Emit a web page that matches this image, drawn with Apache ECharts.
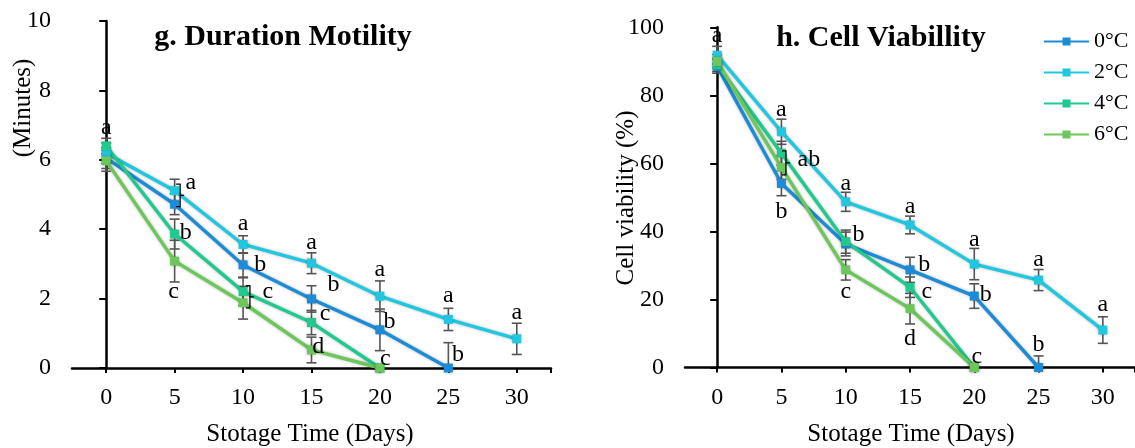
<!DOCTYPE html>
<html>
<head>
<meta charset="utf-8">
<script src="https://cdn.jsdelivr.net/npm/echarts@6/dist/echarts.min.js"></script>
<style>html,body{margin:0;padding:0;background:#fff}#c{width:1135px;height:448px}</style>
</head>
<body>
<div id="c"></div>
<script>
// ---------- data ----------
const days = [0, 5, 10, 15, 20, 25, 30];
const dayTicks = [0, 5, 10, 15, 20, 25, 30];
const seriesNames = ['0°C', '2°C', '4°C', '6°C'];

// g. Duration Motility (minutes)
const motility0 = [6.05, 4.72, 2.97, 1.99, 1.10, 0];
const motility2 = [6.19, 5.11, 3.56, 3.02, 2.07, 1.40, 0.84];
const motility4 = [6.40, 3.86, 2.20, 1.31, 0];
const motility6 = [5.97, 3.08, 1.88, 0.52, 0];
const motilityErr0 = [0.30, 0.30, 0.35, 0.38, 0.60, 0.73];
const motilityErr2 = [0.30, 0.33, 0.25, 0.30, 0.44, 0.32, 0.45];
const motilityErr4 = [0.22, 0.43, 0.40, 0.35, 0];
const motilityErr6 = [0.30, 0.60, 0.47, 0.37, 0];
const motilityTicks = [0, 2, 4, 6, 8, 10];
// letters: [day, value, letter]
const motilityLetters = [
  [0, 6.92, 'a'], [6.18, 5.33, 'a'], [5.81, 3.89, 'b'], [4.93, 2.19, 'c'],
  [10, 4.15, 'a'], [11.25, 2.97, 'b'], [11.8, 2.20, 'c'],
  [15, 3.61, 'a'], [16.6, 2.39, 'b'], [16.0, 1.56, 'c'], [15.5, 0.61, 'd'],
  [20, 2.84, 'a'], [20.7, 1.33, 'b'], [20.4, 0.26, 'c'],
  [25, 2.07, 'a'], [25.7, 0.37, 'b'],
  [30, 1.59, 'a']
];
// brackets: [day, top, bottom]
const motilityBrackets = [[5.4, 5.30, 4.65], [10.5, 2.37, 1.73]];

// h. Cell Viability (%)
const viability0 = [88.5, 54.1, 36.3, 28.7, 21.0, 0];
const viability2 = [91.8, 69.3, 48.7, 41.9, 30.4, 25.7, 11.0];
const viability4 = [89.0, 63.0, 37.0, 23.6, 0];
const viability6 = [90.0, 58.8, 28.7, 17.3, 0];
const viabilityErr0 = [2.0, 3.6, 3.5, 3.7, 3.6, 3.4];
const viabilityErr2 = [2.6, 3.7, 2.8, 2.6, 4.6, 3.1, 3.9];
const viabilityErr4 = [2.0, 3.5, 3.4, 3.0, 0];
const viabilityErr6 = [2.0, 3.5, 3.0, 4.5, 0];
const viabilityTicks = [0, 20, 40, 60, 80, 100];
const viabilityLetters = [
  [0, 97.5, 'a'], [5, 75.7, 'a'], [7.13, 61.2, 'ab'], [5, 45.8, 'b'],
  [10, 54.1, 'a'], [11.0, 38.9, 'b'], [10, 22.3, 'c'],
  [15, 47.3, 'a'], [16.1, 30.1, 'b'], [16.3, 22.3, 'c'], [15, 8.6, 'd'],
  [20, 37.7, 'a'], [20.9, 21.3, 'b'], [20.2, 3.2, 'c'],
  [25, 31.8, 'a'], [25, 6.6, 'b'],
  [30, 18.4, 'a']
];
const viabilityBrackets = [[5.35, 63.7, 56.6]];

// ---------- styling ----------
const colors = ['#1C8CD6', '#1FC8DF', '#20C98E', '#6CC75A'];
const serif = 'Liberation Serif';

function pairs(vals) { return vals.map((v, i) => [days[i], v]); }
function errs(vals, es) { return vals.map((v, i) => [days[i], v, es[i]]); }

function lineSeries(name, vals, idx, color) {
  return {
    name: name, type: 'line', xAxisIndex: idx, yAxisIndex: idx,
    data: pairs(vals), symbol: 'rect', symbolSize: 9, z: 3,
    lineStyle: { width: 3.4, color: color, shadowColor: 'rgba(0,0,0,0.3)', shadowBlur: 3 },
    itemStyle: { color: color, shadowColor: 'rgba(0,0,0,0.35)', shadowBlur: 3 },
    emphasis: { disabled: true }, animation: false
  };
}

function errSeries(data, idx) {
  return {
    type: 'custom', xAxisIndex: idx, yAxisIndex: idx, z: 2, data: data, animation: false,
    silent: true,
    renderItem: function (params, api) {
      const x = api.value(0), y = api.value(1), e = api.value(2);
      if (!e) return null;
      const top = api.coord([x, y + e]);
      const lowVal = Math.max(0, y - e);
      const bot = api.coord([x, lowVal]);
      const w = 5;
      const st = { stroke: '#555', lineWidth: 1.6 };
      const ch = [
        { type: 'line', shape: { x1: top[0], y1: top[1], x2: bot[0], y2: bot[1] }, style: st },
        { type: 'line', shape: { x1: top[0] - w, y1: top[1], x2: top[0] + w, y2: top[1] }, style: st }
      ];
      if (y - e > 0) ch.push({ type: 'line', shape: { x1: bot[0] - w, y1: bot[1], x2: bot[0] + w, y2: bot[1] }, style: st });
      return { type: 'group', children: ch };
    }
  };
}

function letterSeries(data, idx) {
  return {
    type: 'custom', xAxisIndex: idx, yAxisIndex: idx, z: 5, data: data, animation: false, silent: true,
    renderItem: function (params, api) {
      const p = api.coord([api.value(0), api.value(1)]);
      return {
        type: 'text', x: p[0], y: p[1],
        style: { text: data[params.dataIndex][2], fontSize: 24, fontFamily: serif, fill: '#000', align: 'center', verticalAlign: 'middle' }
      };
    }
  };
}

function bracketSeries(data, idx) {
  return {
    type: 'custom', xAxisIndex: idx, yAxisIndex: idx, z: 5, data: data, animation: false, silent: true,
    renderItem: function (params, api) {
      const t = api.coord([api.value(0), api.value(1)]);
      const b = api.coord([api.value(0), api.value(2)]);
      const m = (t[1] + b[1]) / 2;
      return {
        type: 'group',
        children: [
          { type: 'polyline', shape: { points: [[t[0] - 4, t[1]], [t[0], t[1]], [b[0], b[1]], [b[0] - 4, b[1]]] }, style: { stroke: '#000', lineWidth: 1.3, fill: null } },
          { type: 'line', shape: { x1: t[0], y1: m, x2: t[0] + 4, y2: m }, style: { stroke: '#000', lineWidth: 1.3 } }
        ]
      };
    }
  };
}

function xAxis(idx) {
  return {
    type: 'value', gridIndex: idx, min: -2.5, max: 32.5,
    axisLine: { show: true, onZero: false, lineStyle: { color: '#000', width: 2.5 } },
    axisTick: { show: true, customValues: dayTicks.concat([32.5]), length: 5, lineStyle: { color: '#000', width: 2 } },
    axisLabel: { customValues: dayTicks, fontSize: 24, fontFamily: serif, color: '#000', margin: 18 },
    splitLine: { show: false }
  };
}
function yAxis(idx, ticks) {
  return {
    type: 'value', gridIndex: idx, min: ticks[0], max: ticks[ticks.length - 1], interval: ticks[1] - ticks[0],
    axisLine: { show: true, lineStyle: { color: '#000', width: 2.5 } },
    axisTick: { show: true, length: 7, lineStyle: { color: '#000', width: 2 } },
    axisLabel: { fontSize: 24, fontFamily: serif, color: '#000', margin: 21 },
    splitLine: { show: false }
  };
}

const motility = [motility0, motility2, motility4, motility6];
const motilityErr = [motilityErr0, motilityErr2, motilityErr4, motilityErr6];
const viability = [viability0, viability2, viability4, viability6];
const viabilityErr = [viabilityErr0, viabilityErr2, viabilityErr4, viabilityErr6];

const series = [];
for (let k = 0; k < 4; k++) series.push(errSeries(errs(motility[k], motilityErr[k]), 0));
for (let k = 0; k < 4; k++) series.push(errSeries(errs(viability[k], viabilityErr[k]), 1));
for (let k = 0; k < 4; k++) series.push(lineSeries(seriesNames[k], motility[k], 0, colors[k]));
for (let k = 0; k < 4; k++) series.push(lineSeries(seriesNames[k], viability[k], 1, colors[k]));
series.push(letterSeries(motilityLetters, 0), letterSeries(viabilityLetters, 1));
series.push(bracketSeries(motilityBrackets, 0), bracketSeries(viabilityBrackets, 1));

const chart = echarts.init(document.getElementById('c'), null, { renderer: 'canvas' });
chart.setOption({
  animation: false,
  backgroundColor: '#fff',
  grid: [
    { left: 72, top: 21, width: 479, height: 347 },
    { left: 685, top: 27.3, width: 454, height: 340.2 }
  ],
  xAxis: [xAxis(0), xAxis(1)],
  yAxis: [yAxis(0, motilityTicks), yAxis(1, viabilityTicks)],
  legend: {
    data: seriesNames, orient: 'vertical', left: 1038, top: 25,
    itemWidth: 45, itemHeight: 10, itemGap: 8,
    textStyle: { fontSize: 22, fontFamily: serif, color: '#000', lineHeight: 23 }
  },
  graphic: [
    { type: 'text', x: 283, y: 37, style: { text: 'g. Duration Motility', font: 'bold 30px "Liberation Serif"', fill: '#000', align: 'center', verticalAlign: 'middle' } },
    { type: 'text', x: 881, y: 38, style: { text: 'h. Cell Viabillity', font: 'bold 30px "Liberation Serif"', fill: '#000', align: 'center', verticalAlign: 'middle' } },
    { type: 'text', x: 310, y: 434, style: { text: 'Stotage Time (Days)', font: '25px "Liberation Serif"', fill: '#000', align: 'center', verticalAlign: 'middle' } },
    { type: 'text', x: 911, y: 434, style: { text: 'Stotage Time (Days)', font: '25px "Liberation Serif"', fill: '#000', align: 'center', verticalAlign: 'middle' } },
    { type: 'text', x: 23, y: 108, rotation: Math.PI / 2, style: { text: '(Minutes)', font: '25px "Liberation Serif"', fill: '#000', align: 'center', verticalAlign: 'middle' } },
    { type: 'text', x: 626, y: 198, rotation: Math.PI / 2, style: { text: 'Cell viability (%)', font: '25px "Liberation Serif"', fill: '#000', align: 'center', verticalAlign: 'middle' } }
  ],
  series: series
});
</script>
</body>
</html>
